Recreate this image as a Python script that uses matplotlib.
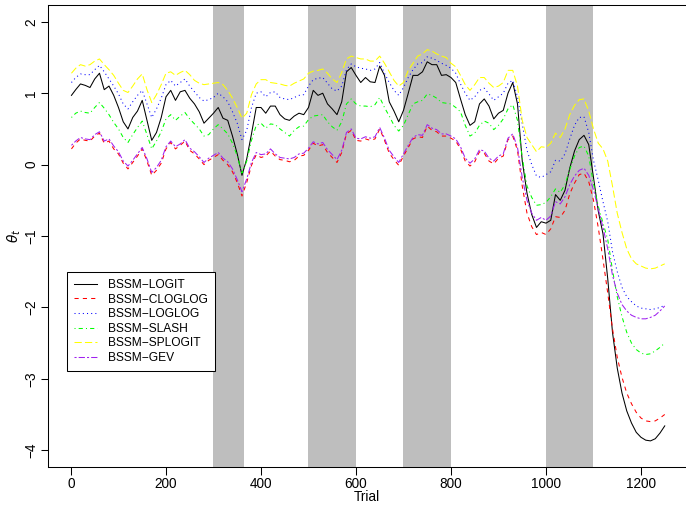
import matplotlib
matplotlib.use("Agg")
import matplotlib.pyplot as plt

plt.rcParams['font.family'] = ['Liberation Sans', 'DejaVu Sans']
plt.rcParams['mathtext.fontset'] = 'dejavusans'

trial = [1] + list(range(10, 1251, 10))

logit = [0.97, 1.05, 1.13, 1.11, 1.08, 1.20, 1.28, 1.05, 1.10, 0.97,
         0.80, 0.60, 0.50, 0.66, 0.75, 0.90, 0.62, 0.34, 0.45, 0.66,
         0.95, 1.04, 0.90, 1.02, 1.04, 0.93, 0.85, 0.74, 0.58, 0.65,
         0.72, 0.80, 0.65, 0.62, 0.40, 0.15, -0.15, 0.08, 0.43, 0.80,
         0.80, 0.72, 0.82, 0.82, 0.70, 0.64, 0.62, 0.68, 0.72, 0.70,
         0.80, 1.04, 0.97, 1.00, 0.85, 0.78, 0.70, 0.88, 1.30, 1.36,
         1.25, 1.15, 1.22, 1.16, 1.15, 1.38, 1.25, 0.88, 0.75, 0.60,
         0.76, 1.00, 1.25, 1.25, 1.30, 1.44, 1.40, 1.40, 1.25, 1.26,
         1.22, 1.15, 0.92, 0.70, 0.55, 0.60, 0.85, 0.92, 0.82, 0.64,
         0.72, 0.76, 1.00, 1.15, 0.85, 0.05, -0.40, -0.70, -0.88, -0.80,
         -0.82, -0.78, -0.42, -0.50, -0.36, -0.05, 0.19, 0.35, 0.41, 0.28,
         -0.18, -0.65, -0.97, -1.60, -2.35, -2.85, -3.20, -3.45, -3.62, -3.75,
         -3.82, -3.86, -3.87, -3.84, -3.76, -3.66]

cloglog = [0.22, 0.30, 0.36, 0.34, 0.33, 0.40, 0.44, 0.30, 0.33, 0.22,
           0.15, 0.02, -0.06, 0.03, 0.12, 0.22, 0.05, -0.15, -0.08, 0.02,
           0.22, 0.31, 0.22, 0.27, 0.33, 0.20, 0.15, 0.08, 0.00, 0.06,
           0.10, 0.14, 0.06, 0.00, -0.10, -0.25, -0.44, -0.25, -0.01, 0.14,
           0.10, 0.12, 0.19, 0.12, 0.07, 0.06, 0.04, 0.06, 0.12, 0.13,
           0.20, 0.30, 0.26, 0.28, 0.17, 0.10, 0.03, 0.17, 0.43, 0.48,
           0.34, 0.33, 0.36, 0.34, 0.36, 0.50, 0.34, 0.16, 0.07, -0.01,
           0.12, 0.24, 0.36, 0.39, 0.38, 0.54, 0.48, 0.46, 0.40, 0.40,
           0.37, 0.33, 0.22, 0.05, -0.02, 0.04, 0.18, 0.16, 0.05, 0.01,
           0.09, 0.12, 0.35, 0.40, 0.20, -0.30, -0.68, -0.87, -0.98, -0.95,
           -0.98, -0.90, -0.73, -0.74, -0.64, -0.41, -0.26, -0.14, -0.12, -0.24,
           -0.50, -0.88, -1.33, -1.80, -2.30, -2.70, -2.98, -3.20, -3.35, -3.47,
           -3.55, -3.59, -3.60, -3.59, -3.55, -3.50]

loglog = [1.15, 1.22, 1.27, 1.26, 1.26, 1.33, 1.39, 1.30, 1.20, 1.10,
          0.99, 0.85, 0.78, 0.88, 0.97, 1.04, 0.85, 0.66, 0.78, 0.93,
          1.12, 1.18, 1.10, 1.15, 1.20, 1.10, 1.02, 0.94, 0.89, 0.91,
          0.94, 1.00, 0.95, 0.88, 0.74, 0.58, 0.35, 0.48, 0.80, 1.00,
          1.02, 0.95, 1.01, 1.02, 0.94, 0.92, 0.91, 0.94, 0.97, 0.98,
          1.10, 1.19, 1.21, 1.22, 1.14, 1.06, 1.03, 1.10, 1.33, 1.41,
          1.37, 1.35, 1.34, 1.32, 1.34, 1.43, 1.28, 1.15, 1.04, 0.97,
          1.08, 1.22, 1.33, 1.41, 1.43, 1.51, 1.49, 1.46, 1.42, 1.39,
          1.35, 1.28, 1.13, 1.00, 0.90, 0.95, 1.04, 1.07, 0.99, 0.90,
          0.95, 1.00, 1.14, 1.18, 0.95, 0.57, 0.20, 0.00, -0.16, -0.18,
          -0.14, -0.10, 0.06, 0.05, 0.15, 0.36, 0.55, 0.66, 0.67, 0.45,
          0.06, -0.22, -0.52, -0.80, -1.22, -1.50, -1.72, -1.85, -1.92, -1.98,
          -2.01, -2.02, -2.03, -2.02, -2.00, -1.97]

slash = [0.66, 0.72, 0.75, 0.73, 0.72, 0.80, 0.87, 0.79, 0.70, 0.59,
         0.50, 0.38, 0.31, 0.42, 0.52, 0.61, 0.42, 0.22, 0.33, 0.46,
         0.64, 0.70, 0.62, 0.68, 0.73, 0.64, 0.57, 0.50, 0.40, 0.42,
         0.50, 0.56, 0.50, 0.43, 0.30, 0.12, -0.12, 0.05, 0.34, 0.55,
         0.58, 0.51, 0.57, 0.56, 0.50, 0.45, 0.40, 0.48, 0.53, 0.54,
         0.63, 0.68, 0.69, 0.70, 0.60, 0.53, 0.48, 0.60, 0.85, 0.92,
         0.85, 0.82, 0.82, 0.81, 0.84, 0.94, 0.80, 0.68, 0.55, 0.47,
         0.55, 0.70, 0.85, 0.88, 0.90, 0.99, 0.97, 0.93, 0.87, 0.86,
         0.85, 0.80, 0.74, 0.55, 0.40, 0.44, 0.55, 0.61, 0.58, 0.49,
         0.55, 0.64, 0.78, 0.84, 0.62, 0.10, -0.30, -0.46, -0.57, -0.56,
         -0.53, -0.45, -0.34, -0.39, -0.28, -0.07, 0.12, 0.24, 0.26, 0.12,
         -0.27, -0.58, -0.82, -1.05, -1.48, -1.85, -2.13, -2.35, -2.50, -2.59,
         -2.64, -2.66, -2.65, -2.61, -2.56, -2.50]

splogit = [1.28, 1.35, 1.40, 1.38, 1.40, 1.45, 1.48, 1.40, 1.33, 1.25,
           1.14, 1.04, 1.01, 1.10, 1.20, 1.27, 1.05, 0.87, 0.98, 1.12,
           1.28, 1.30, 1.25, 1.29, 1.32, 1.26, 1.18, 1.14, 1.12, 1.13,
           1.14, 1.15, 1.12, 1.04, 0.93, 0.80, 0.65, 0.72, 0.98, 1.13,
           1.19, 1.19, 1.15, 1.14, 1.13, 1.11, 1.10, 1.14, 1.17, 1.20,
           1.28, 1.31, 1.32, 1.34, 1.28, 1.20, 1.15, 1.29, 1.48, 1.52,
           1.50, 1.48, 1.48, 1.45, 1.45, 1.52, 1.42, 1.30, 1.18, 1.10,
           1.15, 1.32, 1.42, 1.52, 1.55, 1.61, 1.59, 1.55, 1.52, 1.50,
           1.42, 1.37, 1.25, 1.12, 1.04, 1.12, 1.22, 1.22, 1.14, 1.08,
           1.10, 1.15, 1.32, 1.32, 1.10, 0.62, 0.38, 0.28, 0.18, 0.25,
           0.24, 0.30, 0.44, 0.38, 0.50, 0.70, 0.83, 0.91, 0.92, 0.75,
           0.50, 0.30, 0.22, 0.05, -0.30, -0.68, -0.95, -1.18, -1.32, -1.39,
           -1.42, -1.45, -1.46, -1.45, -1.42, -1.39]

gev = [0.27, 0.33, 0.38, 0.36, 0.35, 0.42, 0.46, 0.33, 0.36, 0.26,
       0.18, 0.05, -0.02, 0.06, 0.15, 0.24, 0.08, -0.11, -0.04, 0.06,
       0.25, 0.33, 0.25, 0.29, 0.35, 0.23, 0.18, 0.11, 0.03, 0.09,
       0.13, 0.17, 0.09, 0.04, -0.06, -0.21, -0.38, -0.20, 0.03, 0.17,
       0.14, 0.15, 0.22, 0.15, 0.10, 0.09, 0.08, 0.10, 0.15, 0.16,
       0.23, 0.32, 0.29, 0.31, 0.21, 0.14, 0.07, 0.20, 0.45, 0.50,
       0.37, 0.36, 0.39, 0.37, 0.39, 0.52, 0.37, 0.20, 0.11, 0.03,
       0.15, 0.27, 0.38, 0.42, 0.41, 0.56, 0.51, 0.49, 0.43, 0.43,
       0.40, 0.36, 0.25, 0.09, 0.02, 0.08, 0.21, 0.19, 0.09, 0.05,
       0.12, 0.15, 0.37, 0.43, 0.24, -0.18, -0.50, -0.68, -0.78, -0.74,
       -0.78, -0.72, -0.52, -0.55, -0.45, -0.28, -0.16, -0.08, -0.05, -0.15,
       -0.35, -0.62, -0.88, -1.18, -1.55, -1.80, -1.96, -2.05, -2.11, -2.14,
       -2.16, -2.16, -2.14, -2.11, -2.05, -1.98]

# shaded trial blocks
shade_start = [300, 500, 700, 1000]
shade_end = [365, 600, 800, 1100]

series = [
    ("BSSM\u2212LOGIT", logit, "black", "-"),
    ("BSSM\u2212CLOGLOG", cloglog, "#FF0000", (0, (4, 4))),
    ("BSSM\u2212LOGLOG", loglog, "#0000FF", (0, (1, 3))),
    ("BSSM\u2212SLASH", slash, "#00FF00", (0, (1, 3, 4, 3))),
    ("BSSM\u2212SPLOGIT", splogit, "#FFFF00", (0, (7, 3))),
    ("BSSM\u2212GEV", gev, "#A020F0", (0, (2, 2, 6, 2))),
]

W, H = 686, 508
fig = plt.figure(figsize=(W / 100, H / 100), dpi=100)
x0, x1, y0, y1 = 47.7, 688.5, 4.7, 467.3
ax = fig.add_axes([x0 / W, 1 - y1 / H, (x1 - x0) / W, (y1 - y0) / H])

for s, e in zip(shade_start, shade_end):
    ax.axvspan(s, e, color="#BEBEBE", lw=0, zorder=0)

for name, vals, col, ls in series:
    ax.plot(trial, vals, color=col, linestyle=ls, linewidth=0.75, label=name)

ax.set_xlim(-49, 1300)
ax.set_ylim(-4.24, 2.24)
ax.set_xticks([0, 200, 400, 600, 800, 1000, 1200])
ax.set_yticks([-4, -3, -2, -1, 0, 1, 2])
for sp in ax.spines.values():
    sp.set_linewidth(0.75)
ax.spines["right"].set_visible(False)
ax.tick_params(direction="out", length=5.4, width=0.75, labelsize=9.8, pad=1.5)
ax.tick_params(axis="y", labelrotation=90)
for lbl in ax.get_yticklabels():
    lbl.set_va("center")

fig.text(14 / W, 1 - 236 / H, r"$\theta_t$", rotation=90, ha="center", va="center", fontsize=9.8)
fig.text(367 / W, 1 - 497 / H, "Trial", ha="center", va="center", fontsize=9.8)

leg = ax.legend(loc="upper left", bbox_to_anchor=((66.7 - x0) / (x1 - x0), (y1 - 271.7) / (y1 - y0)),
                borderaxespad=0, fontsize=8.64, fancybox=False, framealpha=1, edgecolor="black",
                borderpad=0.6, handlelength=1.9, handletextpad=0.95, labelspacing=0.22)
leg.get_frame().set_linewidth(0.75)

fig.savefig("out.png", dpi=100)
